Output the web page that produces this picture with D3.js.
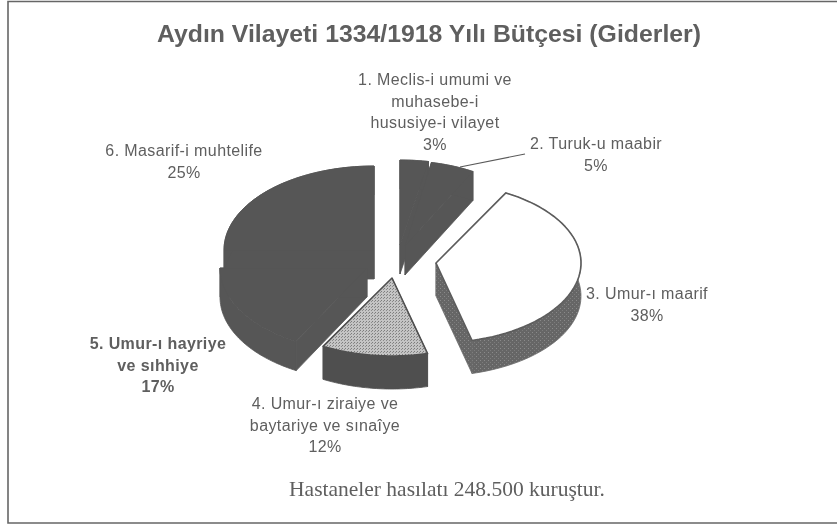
<!DOCTYPE html>
<html lang="tr">
<head>
<meta charset="utf-8">
<script src="https://cdn.jsdelivr.net/npm/d3@7"></script>
<style>
html,body{margin:0;padding:0;background:#fff}
svg{display:block}
text{font-family:"Liberation Sans",Arial,sans-serif;fill:#5e5e5e}
</style>
</head>
<body>
<svg id="c" width="837" height="526"></svg>
<script>
const title = "Aydın Vilayeti 1334/1918 Yılı Bütçesi (Giderler)";
const footnote = "Hastaneler hasılatı 248.500 kuruştur.";
const categories = [
  ["1. Meclis-i umumi ve","muhasebe-i","hususiye-i vilayet"],
  ["2. Turuk-u maabir"],
  ["3. Umur-ı maarif"],
  ["4. Umur-ı ziraiye ve","baytariye ve sınaîye"],
  ["5. Umur-ı hayriye","ve sıhhiye"],
  ["6. Masarif-i muhtelife"]
];
const values = [3,5,38,12,17,25];

// layout of the exploded, tilted pie (one entry per slice)
const geom = [
  {cx:400,cy:245,rx:152,ry:85,depth:29,top:"#565656",side:"#565656",seam:"#565656"},
  {cx:405,cy:246,rx:141,ry:85,depth:29,top:"#565656",side:"#565656",seam:"#565656"},
  {cx:436,cy:263,rx:145,ry:80,depth:33,top:"#ffffff",side:"url(#mottle)",seam:"#6c6c6c",stroke:"#5c5c5c"},
  {cx:392,cy:278,rx:143,ry:78,depth:33,top:"url(#stipple)",side:"#505050",seam:"#505050",stroke:"#505050"},
  {cx:367,cy:268,rx:147,ry:84,depth:29,top:"#565656",side:"#565656",seam:"#565656"},
  {cx:374,cy:250,rx:150,ry:84,depth:29,top:"#565656",side:"#565656",seam:"#565656"}
];
const labelPos = [
  {x:435,y:85},{x:596,y:149},{x:647,y:299},{x:325,y:409},{x:158,y:349,bold:true},{x:184,y:156}
];

const svg = d3.select("#c");
const defs = svg.append("defs");
defs.append("filter").attr("id","scan").attr("x",0).attr("y",0).attr("width","100%").attr("height","100%")
  .append("feGaussianBlur").attr("stdDeviation",0.55);
const st = defs.append("pattern").attr("id","stipple").attr("width",3).attr("height",3).attr("patternUnits","userSpaceOnUse");
st.append("rect").attr("width",3).attr("height",3).attr("fill","#c4c4c4");
st.append("rect").attr("width",1).attr("height",1).attr("fill","#7c7c7c");
st.append("rect").attr("x",2).attr("y",1).attr("width",1).attr("height",1).attr("fill","#8c8c8c");
const mo = defs.append("pattern").attr("id","mottle").attr("width",4).attr("height",4).attr("patternUnits","userSpaceOnUse");
mo.append("rect").attr("width",4).attr("height",4).attr("fill","#666");
mo.append("rect").attr("width",1).attr("height",1).attr("fill","#8a8a8a");
mo.append("rect").attr("x",2).attr("y",2).attr("width",1).attr("height",1).attr("fill","#7c7c7c");

const root = svg.append("g").attr("filter","url(#scan)");
root.append("rect").attr("width",837).attr("height",526).attr("fill","#fff");

// frame: left, top and bottom rules
const frame = d3.path();
frame.moveTo(837,1.5); frame.lineTo(8,1.5); frame.lineTo(8,523); frame.lineTo(837,523);
root.append("path").attr("d",frame.toString()).attr("fill","none").attr("stroke","#666").attr("stroke-width",1.6);

root.append("text").text(title).attr("x",429).attr("y",42).attr("text-anchor","middle")
  .attr("font-size",24.8).attr("font-weight","bold");

const pie = d3.pie().sort(null)(values);
const line = d3.line();
const pt = (g,a,dy=0) => [g.cx + g.rx*Math.sin(a), g.cy - g.ry*Math.cos(a) + dy];
const arcPts = (g,a0,a1,dy=0) => d3.range(0,1.0001,1/48).map(t => pt(g,a0+(a1-a0)*t,dy));

const order = [5,4,0,1,2,3];
const sl = root.append("g").selectAll("g").data(order.map(i => ({arc:pie[i],g:geom[i]}))).join("g");
// extruded body: one path per face; a thin stroke in the face colour closes the seams
sl.selectAll("path.face").data(d => {
  const {startAngle:a0,endAngle:a1} = d.arc, g = d.g, h = g.depth;
  const c=[g.cx,g.cy], cb=[g.cx,g.cy+h];
  return [
    [c,pt(g,a0),pt(g,a0,h),cb],
    [c,pt(g,a1),pt(g,a1,h),cb],
    [...arcPts(g,a0,a1),...arcPts(g,a1,a0,h)]
  ].map(p => ({p,fill:g.side,seam:g.seam}));
}).join("path").attr("class","face").attr("fill",d=>d.fill)
  .attr("stroke",d=>d.seam).attr("stroke-width",0.8).attr("stroke-linejoin","round")
  .attr("d",d=>line(d.p)+"Z");
// top face
sl.append("path").attr("fill",d=>d.g.top)
  .attr("stroke",d=>d.g.stroke||d.g.seam).attr("stroke-width",d=>d.g.stroke?1.6:0.8).attr("stroke-linejoin","round")
  .attr("d",d=>line([[d.g.cx,d.g.cy],...arcPts(d.g,d.arc.startAngle,d.arc.endAngle)])+"Z");

// leader for slice 2
root.append("path").attr("d",line([[460,167],[525,154]])).attr("fill","none").attr("stroke","#5a5a5a").attr("stroke-width",1.1);

// labels
const lab = root.append("g").selectAll("text").data(categories.map((c,i)=>({lines:[...c,values[i]+"%"],p:labelPos[i]}))).join("text")
  .attr("text-anchor","middle").attr("font-size",16).attr("letter-spacing",0.4).attr("font-weight",d=>d.p.bold?"bold":"normal");
lab.selectAll("tspan").data(d=>d.lines.map((t,i)=>({t,i,p:d.p}))).join("tspan")
  .attr("x",d=>d.p.x).attr("y",d=>d.p.y+d.i*21.7).text(d=>d.t);

root.append("text").text(footnote).attr("x",447).attr("y",496).attr("text-anchor","middle")
  .attr("font-size",21.5).style("font-family",'"Liberation Serif",serif');
</script>
</body>
</html>
